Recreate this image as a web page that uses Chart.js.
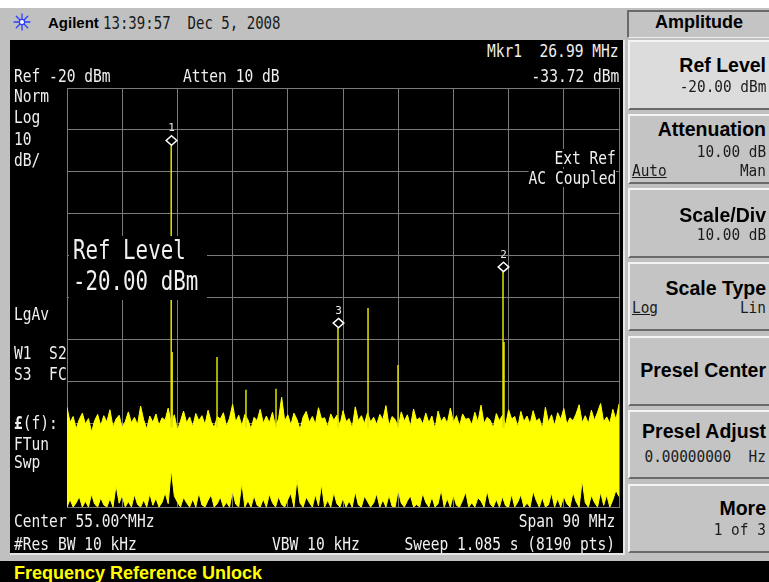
<!DOCTYPE html>
<html><head><meta charset="utf-8">
<script src="https://cdn.jsdelivr.net/npm/chart.js@4.4.1/dist/chart.umd.min.js"></script>
<style>
html,body{margin:0;padding:0;background:#fff;overflow:hidden}
#root{position:relative;width:769px;height:582px;overflow:hidden;background:#fff}
.box{position:absolute;box-sizing:border-box}
.t{position:absolute;white-space:pre;font-family:'DejaVu Sans Mono',monospace;color:#f0f0f0;font-size:18px;line-height:18px;transform:scaleX(.81);transform-origin:0 0}
.tr{transform-origin:100% 0}
.bg{background:#000}
.big{font-size:26px;line-height:26px;transform:scaleX(.8)}
.sk{position:absolute;right:3px;white-space:pre;font-family:'Liberation Sans',Arial,sans-serif;font-weight:bold;font-size:19.5px;line-height:19.5px;color:#000}
.sv{position:absolute;white-space:pre;font-family:'DejaVu Sans Mono',monospace;font-size:16px;line-height:16px;color:#1a1a1a;transform:scaleX(.9);transform-origin:100% 0;right:3px}
.svl{transform-origin:0 0;right:auto;left:632px}
.btn{position:absolute;left:628px;width:141px;box-sizing:border-box;background:#c4c4c4;border-top:2px solid #f4f4f4;border-left:2px solid #f4f4f4;border-bottom:2px solid #6a6a6a}
</style>
</head><body>
<div id="root">
  <!-- frame -->
  <div class="box" style="left:0;top:8px;width:769px;height:553px;background:#c0c0c0"></div>
  <!-- screen -->
  <div class="box" style="left:10px;top:40px;width:615px;height:515px;background:#000;border-right:2px solid #e6e6e6;border-bottom:2px solid #e6e6e6"></div>
  <!-- status bar -->
  <div class="box" style="left:0;top:561px;width:769px;height:21px;background:#000"></div>

  <!-- top bar -->
  <svg style="position:absolute;left:13px;top:13px" width="18" height="18" viewBox="0 0 18 18">
    <g stroke="#2b3dff" stroke-width="1.3" stroke-linecap="round">
      <line x1="9" y1="1" x2="9" y2="17"/><line x1="1" y1="9" x2="17" y2="9"/>
      <line x1="3.3" y1="3.3" x2="14.7" y2="14.7"/><line x1="14.7" y1="3.3" x2="3.3" y2="14.7"/>
    </g>
    <circle cx="9" cy="9" r="2.6" fill="#fff" stroke="#2b3dff" stroke-width="1.2"/>
  </svg>
  <div style="position:absolute;left:48px;top:15.3px;font-family:'Liberation Sans',Arial,sans-serif;font-weight:bold;font-size:15px;line-height:15px;color:#000;white-space:pre">Agilent</div>
  <div class="t" style="left:103px;top:13.8px;color:#1a1a1a;transform:scaleX(.78)">13:39:57  Dec 5, 2008</div>

  <!-- chart -->
  <canvas id="c" width="560" height="427" style="position:absolute;left:63px;top:84px;width:560px;height:427px"></canvas>

  <!-- screen annotations -->
  <div class="t" style="left:14px;top:66.8px">Ref -20 dBm</div>
  <div class="t" style="left:183px;top:66.8px">Atten 10 dB</div>
  <div class="t tr" style="right:150px;top:41.8px">Mkr1  26.99 MHz</div>
  <div class="t tr" style="right:150px;top:66.8px">-33.72 dBm</div>
  <div class="t" style="left:14px;top:86.8px">Norm</div>
  <div class="t" style="left:14px;top:107.8px">Log</div>
  <div class="t" style="left:14px;top:129.8px">10</div>
  <div class="t" style="left:14px;top:150.8px">dB/</div>
  <div class="t tr bg" style="right:153px;top:148.8px">Ext Ref</div>
  <div class="t tr bg" style="right:153px;top:168.8px">AC Coupled</div>
  <div class="t" style="left:14px;top:304.8px">LgAv</div>
  <div class="t" style="left:14px;top:343.8px">W1  S2</div>
  <div class="t" style="left:14px;top:364.8px">S3  FC</div>
  <div class="t" style="left:14px;top:413.8px"><b>£</b>(f):</div>
  <div class="t" style="left:14px;top:434.8px">FTun</div>
  <div class="t" style="left:14px;top:452.8px">Swp</div>
  <div class="t" style="left:14px;top:511.8px">Center 55.00^MHz</div>
  <div class="t" style="left:14px;top:534.8px">#Res BW 10 kHz</div>
  <div class="t" style="left:272px;top:534.8px">VBW 10 kHz</div>
  <div class="t tr" style="right:154px;top:511.8px">Span 90 MHz</div>
  <div class="t tr" style="right:154px;top:534.8px">Sweep 1.085 s (8190 pts)</div>
  <div class="box" style="left:69px;top:236px;width:138px;height:64px;background:#000"></div>
  <div class="t big" style="left:73px;top:237px">Ref Level</div>
  <div class="t big" style="left:73px;top:268px">-20.00 dBm</div>

  <!-- status -->
  <div style="position:absolute;left:14px;top:563.8px;font-family:'Liberation Sans',Arial,sans-serif;font-weight:bold;font-size:18px;line-height:18px;color:#ffff00;white-space:pre">Frequency Reference Unlock</div>

  <!-- softkeys -->
  <div class="box" style="left:627px;top:10px;width:142px;height:28px;background:#c4c4c4;border-left:2px solid #6a6a6a;border-top:2px solid #6a6a6a;border-bottom:1px solid #eeeeee"></div>
  <div style="position:absolute;left:629px;width:140px;top:12.8px;text-align:center;font-family:'Liberation Sans',Arial,sans-serif;font-weight:bold;font-size:18px;line-height:18px;color:#000">Amplitude</div>

  <div class="btn" style="top:40px;height:70px;background:#dcdcdc"></div>
  <div class="btn" style="top:114px;height:70px"></div>
  <div class="btn" style="top:188px;height:70px"></div>
  <div class="btn" style="top:262px;height:69px"></div>
  <div class="btn" style="top:336px;height:70px"></div>
  <div class="btn" style="top:410px;height:69px"></div>
  <div class="btn" style="top:484px;height:69px"></div>

  <div class="sk" style="top:55.5px">Ref Level</div>
  <div class="sv" style="top:78.5px">-20.00 dBm</div>
  <div class="sk" style="top:119.5px">Attenuation</div>
  <div class="sv" style="top:143.5px">10.00 dB</div>
  <div class="sv svl" style="top:162.5px;text-decoration:underline">Auto</div>
  <div class="sv" style="top:162.5px">Man</div>
  <div class="sk" style="top:205.5px">Scale/Div</div>
  <div class="sv" style="top:226.5px">10.00 dB</div>
  <div class="sk" style="top:278.5px">Scale Type</div>
  <div class="sv svl" style="top:299.5px;text-decoration:underline">Log</div>
  <div class="sv" style="top:299.5px">Lin</div>
  <div class="sk" style="top:360.5px">Presel Center</div>
  <div class="sk" style="top:421.5px">Presel Adjust</div>
  <div class="sv" style="top:448.5px">0.00000000  Hz</div>
  <div class="sk" style="top:498.5px">More</div>
  <div class="sv" style="top:521.5px">1 of 3</div>
</div>

<script>
// ---- axis settings (MHz / dBm) ----
const freqStart = 10;
const freqStop = 100;
const freqDiv = 9;
const refLevel = -20;
const bottomLevel = -120;
const dbPerDiv = 10;

// ---- noise trace envelope, sampled every 0.5 MHz from 10 MHz ----
const noiseStep = 0.5;
const noiseTop = [
 -96.2,-99.8,-98.4,-101.3,-99.1,-97.6,-100.2,-98.9,-102.1,-99.4,
 -97.9,-100.6,-98.2,-99.7,-96.8,-100.9,-99.0,-98.1,-101.0,-99.6,
 -97.3,-99.9,-98.6,-100.4,-95.9,-99.2,-101.4,-98.3,-99.8,-97.8,
 -100.5,-98.7,-99.3,-96.4,-100.1,-98.0,-101.7,-99.5,-97.1,-99.9,
 -98.5,-100.8,-97.7,-99.4,-98.2,-100.3,-96.9,-99.6,-101.1,-98.4,
 -99.0,-97.5,-100.7,-98.8,-95.5,-99.7,-98.1,-100.6,-97.9,-99.2,
 -101.3,-98.6,-99.4,-96.7,-100.0,-98.3,-99.9,-97.4,-100.8,-98.9,
 -93.8,-99.5,-98.0,-100.4,-97.6,-99.1,-101.5,-98.5,-97.2,-99.8,
 -98.4,-100.2,-96.3,-99.0,-98.7,-100.9,-97.8,-99.3,-98.1,-100.5,
 -97.0,-99.6,-98.9,-101.2,-96.1,-99.4,-98.2,-100.1,-97.5,-99.7,
 -98.6,-100.3,-97.9,-99.2,-95.8,-100.6,-98.4,-99.1,-101.0,-97.3,
 -99.5,-98.0,-100.8,-96.6,-99.3,-98.7,-100.2,-97.6,-99.9,-98.3,
 -101.4,-97.1,-99.6,-98.5,-100.0,-96.4,-99.8,-98.2,-100.7,-97.8,
 -99.1,-98.8,-100.4,-97.4,-99.7,-95.7,-100.1,-98.6,-99.3,-101.1,
 -97.7,-99.4,-98.1,-100.5,-96.8,-99.0,-98.4,-100.9,-97.2,-99.6,
 -98.3,-100.2,-97.0,-99.5,-98.9,-101.3,-96.2,-99.8,-98.0,-100.6,
 -97.5,-99.1,-96.5,-100.3,-98.7,-99.4,-97.8,-95.6,-99.9,-98.2,
 -100.1,-96.9,-99.3,-97.4,-95.3,-99.7,-98.5,-100.0,-96.7,-99.2,
 -95.4
];
const noiseBottom = [
 -120,-118.2,-120,-119.0,-117.5,-120,-118.6,-120,-116.9,-119.3,
 -120,-117.8,-119.5,-120,-118.0,-120,-114.8,-119.1,-117.2,-120,
 -118.7,-120,-117.0,-119.4,-120,-118.3,-120,-116.8,-119.6,-117.9,
 -120,-118.9,-116.6,-119.2,-111.0,-117.4,-118.8,-120,-117.7,-119.0,
 -120,-118.1,-120,-116.6,-119.5,-120,-118.4,-117.1,-120,-119.2,
 -117.6,-120,-118.9,-120,-116.2,-119.3,-120,-114.2,-120,-118.5,
 -120,-117.3,-119.6,-120,-118.1,-120,-116.9,-119.0,-120,-117.5,
 -119.4,-120,-118.2,-116.7,-120,-113.3,-119.1,-120,-117.6,-118.9,
 -120,-117.0,-119.7,-114.6,-120,-118.4,-120,-116.5,-119.2,-120,
 -117.9,-120,-118.6,-120,-116.3,-119.5,-120,-117.4,-118.7,-120,
 -119.0,-116.8,-120,-118.3,-120,-117.2,-119.8,-120,-116.0,-119.1,
 -120,-118.5,-117.3,-120,-119.4,-120,-116.7,-118.9,-120,-117.6,
 -120,-119.2,-115.9,-120,-118.0,-120,-117.1,-119.6,-120,-118.4,
 -116.4,-120,-119.0,-120,-117.8,-118.6,-120,-116.1,-119.3,-120,
 -118.2,-120,-117.5,-119.7,-120,-116.9,-120,-118.8,-117.0,-120,
 -119.1,-120,-116.2,-118.4,-120,-117.7,-120,-119.5,-116.6,-120,
 -118.0,-120,-117.4,-119.2,-120,-116.5,-118.7,-120,-113.6,-119.0,
 -120,-117.2,-118.9,-120,-116.4,-119.6,-117.1,-120,-118.3,-116.0,
 -117.5
];

// ---- discrete signals (MHz, dBm) ----
const spikeFreqs  = [26.99, 27.15, 34.46, 39.18, 44.08, 54.18, 59.08, 63.97, 81.09, 81.25];
const spikeLevels = [-33.72, -83.0, -84.2, -92.0, -91.8, -77.3, -72.5, -86.1, -63.9, -80.6];
const spikeBase = -101;

// ---- markers ----
const markerNums   = [1, 2, 3];
const markerFreqs  = [26.99, 81.09, 54.18];
const markerLevels = [-33.72, -63.9, -77.3];

const topPts = noiseTop.map((v, i) => ({x: freqStart + i * noiseStep, y: v}));
const botPts = noiseBottom.map((v, i) => ({x: freqStart + i * noiseStep, y: v}));
const spikePts = [];
spikeFreqs.forEach((f, i) => {
  spikePts.push({x: f, y: spikeBase}, {x: f, y: spikeLevels[i]}, {x: f, y: null});
});

const markerPlugin = {
  id: 'markers',
  afterDatasetsDraw(chart) {
    const {ctx, scales: {x, y}} = chart;
    ctx.save();
    markerFreqs.forEach((f, i) => {
      const px = Math.round(x.getPixelForValue(f)) + 0.5;
      const py = y.getPixelForValue(markerLevels[i]);
      const cy = py - 5;
      ctx.beginPath();
      ctx.moveTo(px, cy - 4.7);
      ctx.lineTo(px + 5.3, cy);
      ctx.lineTo(px, cy + 4.7);
      ctx.lineTo(px - 5.3, cy);
      ctx.closePath();
      ctx.fillStyle = '#000';
      ctx.fill();
      ctx.strokeStyle = '#ffffff';
      ctx.lineWidth = 1.5;
      ctx.stroke();
      ctx.fillStyle = '#e8e8e8';
      ctx.font = '11px "DejaVu Sans Mono"';
      ctx.textAlign = 'center';
      ctx.textBaseline = 'alphabetic';
      ctx.fillText(String(markerNums[i]), px, cy - 9);
    });
    ctx.restore();
  }
};

const gridCol = '#7a7a7a';
new Chart(document.getElementById('c'), {
  type: 'line',
  data: {
    datasets: [
      {data: spikePts, borderColor: '#e2e200', borderWidth: 1.5, pointRadius: 0, spanGaps: false, fill: false, order: 0},
      {data: topPts, borderColor: '#ffff00', backgroundColor: '#ffff00', borderWidth: 1, pointRadius: 0, fill: '+1', order: 1},
      {data: botPts, borderColor: '#ffff00', borderWidth: 1, pointRadius: 0, fill: false, order: 2}
    ]
  },
  options: {
    responsive: false,
    animation: false,
    devicePixelRatio: 1,
    parsing: true,
    layout: {padding: 4},
    plugins: {legend: {display: false}, tooltip: {enabled: false}},
    elements: {line: {tension: 0}},
    scales: {
      x: {type: 'linear', min: freqStart, max: freqStop,
          ticks: {display: false, stepSize: freqDiv},
          grid: {color: gridCol, drawTicks: false, lineWidth: 1},
          border: {color: gridCol}},
      y: {type: 'linear', min: bottomLevel, max: refLevel,
          ticks: {display: false, stepSize: dbPerDiv},
          grid: {color: gridCol, drawTicks: false, lineWidth: 1},
          border: {color: gridCol}}
    }
  },
  plugins: [markerPlugin]
});
</script>
</body></html>
